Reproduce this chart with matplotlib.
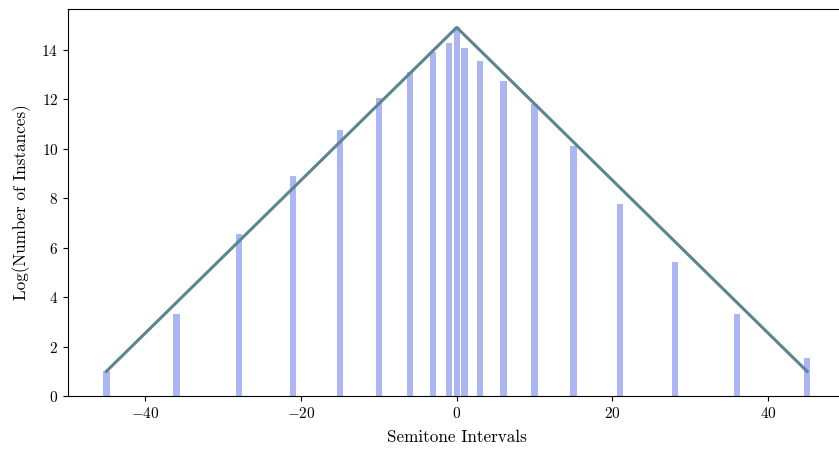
import matplotlib.pyplot as plt

plt.rcParams['font.family'] = 'cmr10'
plt.rcParams['mathtext.fontset'] = 'cm'
plt.rcParams['axes.formatter.use_mathtext'] = True
plt.rcParams['font.size'] = 11

intervals = [-45, -36, -28, -21, -15, -10, -6, -3, -1, 0, 1, 3, 6, 10, 15, 21, 28, 36, 45]
log_counts = [1.0, 3.3, 6.55, 8.9, 10.75, 12.05, 13.1, 13.9, 14.25, 14.9,
              14.05, 13.55, 12.75, 11.8, 10.1, 7.75, 5.4, 3.3, 1.55]

# triangular fit through the extremes and the unison peak
fit_x = [-45, 0, 45]
fit_y = [1.0, 14.9, 1.0]

fig = plt.figure(figsize=(8.39, 4.49), dpi=100)
ax = fig.add_axes([0.081, 0.118, 0.9267, 0.862])

ax.plot(fit_x, fit_y, color='#5b8590', linewidth=2.2)
ax.bar(intervals, log_counts, width=0.8, color='#abb6f2')

ax.set_xlabel('Semitone Intervals', fontsize=12.3, labelpad=6.5)
ax.set_ylabel('Log(Number of Instances)', fontsize=12.3, labelpad=7.5)

fig.savefig('out.png', dpi=100)
